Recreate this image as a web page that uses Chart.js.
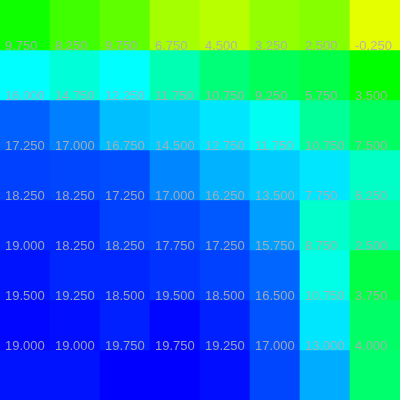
<!DOCTYPE html>
<html>
<head>
<meta charset="utf-8">
<script src="https://cdn.jsdelivr.net/npm/chart.js@4/dist/chart.umd.min.js"></script>
<style>
  html, body { margin: 0; padding: 0; background: #fff; }
  #wrap { width: 400px; height: 400px; position: relative; }
</style>
</head>
<body>
<div id="wrap"><canvas id="c"></canvas></div>
<script>
// Column categories
const columns = ['C1', 'C2', 'C3', 'C4', 'C5', 'C6', 'C7', 'C8'];

// Cell values, one array per row (top to bottom)
const row0 = [-0.75, -2.75, -4.0, -6.75, -7.5, -6.0, -5.5, -9.25];
const row1 = [9.75, 8.25, 9.75, 6.75, 4.5, 3.25, 2.5, -0.25];
const row2 = [16.0, 14.75, 12.25, 11.75, 10.75, 9.25, 5.75, 3.5];
const row3 = [17.25, 17.0, 16.75, 14.5, 12.75, 11.75, 10.75, 7.5];
const row4 = [18.25, 18.25, 17.25, 17.0, 16.25, 13.5, 7.75, 6.25];
const row5 = [19.0, 18.25, 18.25, 17.75, 17.25, 15.75, 8.75, 2.5];
const row6 = [19.5, 19.25, 18.5, 19.5, 18.5, 16.5, 10.75, 3.75];
const row7 = [19.0, 19.0, 19.75, 19.75, 19.25, 17.0, 13.0, 4.0];

const rows = [row0, row1, row2, row3, row4, row5, row6, row7];

// Colour scale limits
const VMIN = -10.25;
const VMAX = 19.75;

function colorFor(v) {
  let t = (v - VMIN) / (VMAX - VMIN);
  t = Math.max(0, Math.min(1, t));
  const hue = 60 + 180 * t; // yellow -> green -> cyan -> blue
  return 'hsl(' + hue.toFixed(2) + ',100%,50%)';
}

const datasets = rows.map((vals, i) => ({
  label: 'row ' + i,
  data: vals.map(() => 1),
  cellValues: vals,
  backgroundColor: vals.map(colorFor),
  borderWidth: 0,
  barPercentage: 1,
  categoryPercentage: 1
}));

const cellLabels = {
  id: 'cellLabels',
  afterDatasetsDraw(chart) {
    const ctx = chart.ctx;
    ctx.save();
    ctx.font = '13px "Liberation Sans", Arial, sans-serif';
    ctx.fillStyle = 'rgba(172,172,182,0.92)';
    ctx.textAlign = 'left';
    ctx.textBaseline = 'alphabetic';
    chart.data.datasets.forEach((ds, r) => {
      const meta = chart.getDatasetMeta(r);
      meta.data.forEach((bar, c) => {
        const p = bar.getProps(['x', 'y', 'base', 'width'], true);
        const top = Math.min(p.y, p.base);
        const left = p.x - p.width / 2;
        const baseline = top - 0.5;
        if (baseline < 4) return; // outside the visible area
        ctx.fillText(ds.cellValues[c].toFixed(3), left + 5, baseline);
      });
    });
    ctx.restore();
  }
};

new Chart(document.getElementById('c'), {
  type: 'bar',
  data: { labels: columns, datasets: datasets },
  options: {
    responsive: true,
    maintainAspectRatio: false,
    animation: false,
    devicePixelRatio: 1,
    layout: { padding: 0 },
    plugins: { legend: { display: false }, tooltip: { enabled: false } },
    scales: {
      x: { stacked: true, display: false, grid: { display: false } },
      y: { stacked: true, display: false, min: 0, max: 8, reverse: true, grid: { display: false } }
    }
  },
  plugins: [cellLabels]
});
</script>
</body>
</html>
